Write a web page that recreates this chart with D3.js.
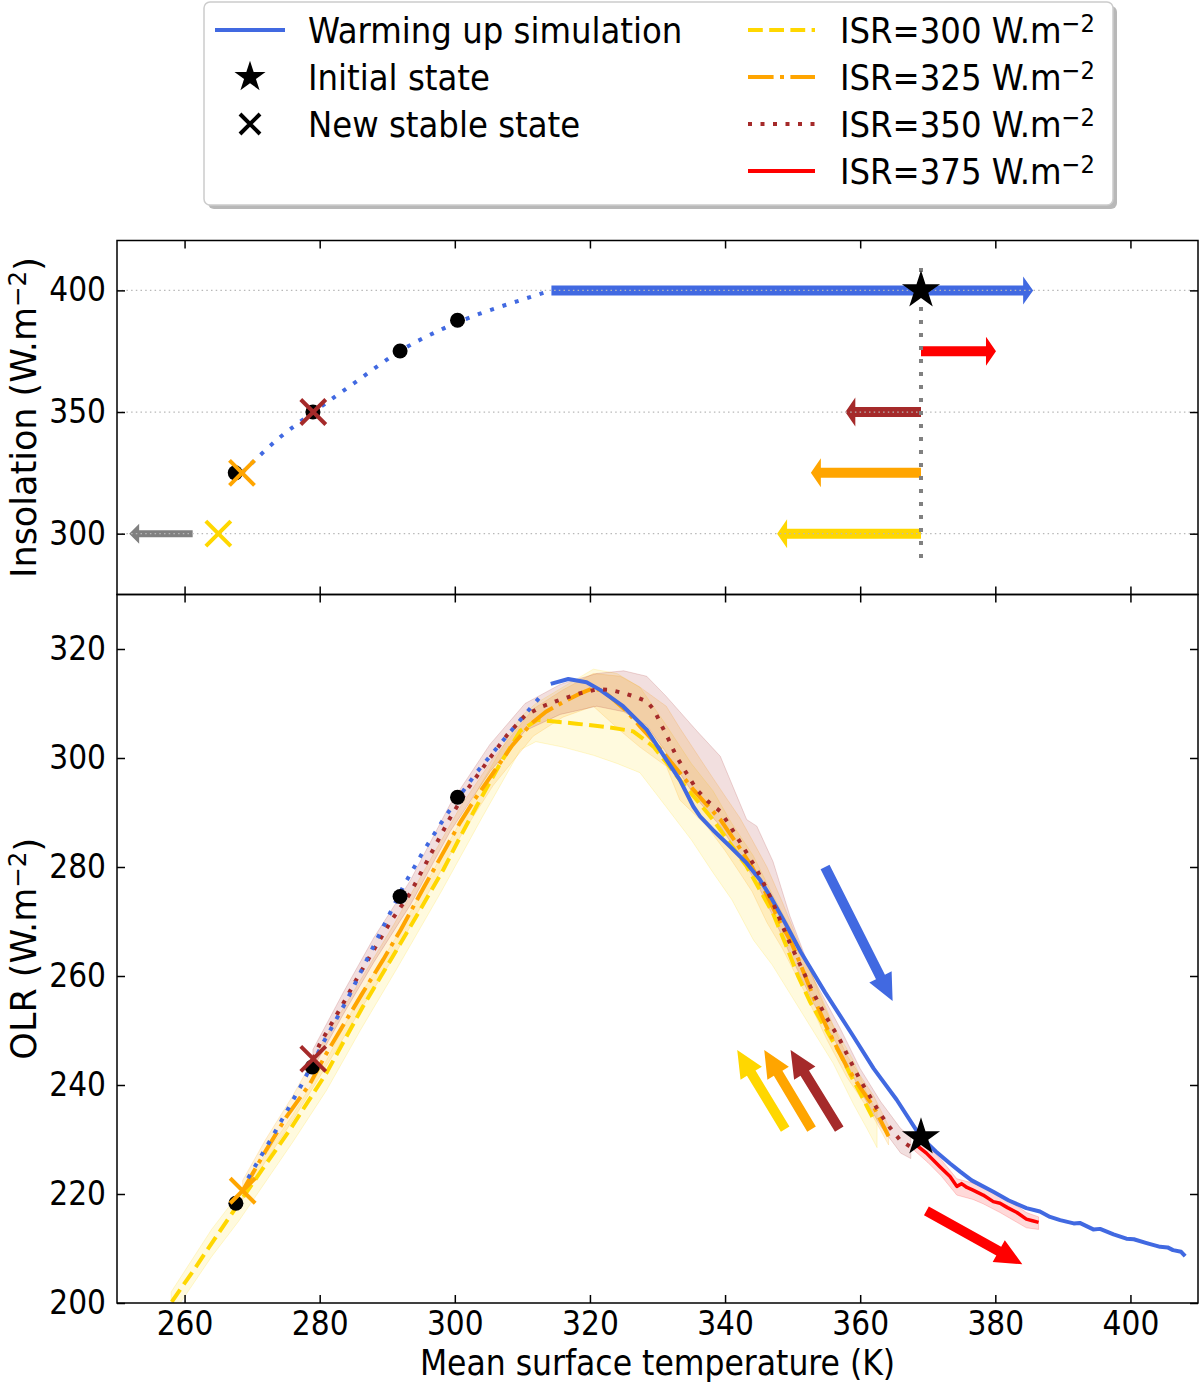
<!DOCTYPE html>
<html>
<head>
<meta charset="utf-8">
<script src="https://cdn.jsdelivr.net/npm/d3@7"></script>
<style>
	body { margin: 0; background: #fff; }
	text { font-family: "DejaVu Sans Condensed", "DejaVu Sans", sans-serif; fill: #000; }
	text.rot { font-family: "DejaVu Sans", sans-serif; }
</style>
</head>
<body>
<div id="chart"></div>
<script>
var width = 1200;
var height = 1384;

// ---- data ----
var isrLevels = [300, 325, 350, 375];
var isrColors = ["#ffd700", "#ffa500", "#a52a2a", "#ff0000"];
var warmColor = "#4169e1";

var xTicks = [260, 280, 300, 320, 340, 360, 380, 400];
var topYTicks = [300, 350, 400];
var botYTicks = [200, 220, 240, 260, 280, 300, 320];

// top panel (temperature, insolation)
var topWarmCurve = [[268.5, 325], [273.9, 339.1], [279.1, 350], [285.0, 361.7], [291.9, 375.1], [298.3, 384.3], [303.7, 390.4], [309.2, 395.5], [314.3, 400]];
var topDots = [[267.5, 325], [279, 350], [291.9, 375.1], [300.4, 387.7]];
var topCrossX = [265, 268.5, 279.05];
var topCrossY = [300, 325, 350];
var topStar = [369, 400];
var topVLine = [[369, 290], [369, 410]];
// arrows: [x0, y0, x1, y1]
var topWarmArrow = [314.3, 400, 385.6, 400];
var topIsrArrows = [[369, 300, 347.7, 300], [369, 325, 352.7, 325], [369, 350, 357.8, 350], [369, 375, 380.1, 375]];
var topGrayArrow = [261.2, 300, 251.8, 300];

// bottom panel (temperature, OLR)
var warmSolid = [[314.2, 313.6], [316.8, 314.5], [319.5, 313.9], [321.5, 312.5], [324.9, 309.5], [328.4, 305.2], [331.3, 299.7], [333.3, 296.0], [335.3, 291.1], [336.3, 289.3], [338.2, 286.8], [340.7, 283.8], [343.2, 280.7], [345.2, 277.6], [346.9, 274.2], [349, 269.5], [351.2, 264.4], [354.8, 257.0], [358.7, 249.5], [362, 243], [365.4, 237.3], [369.0, 230.4], [371.2, 227.8], [373.3, 225.6], [374.8, 224.1], [376.5, 222.5], [379.7, 220.4], [382, 218.8], [384.6, 217.4], [386.6, 216.8], [388.1, 215.8], [389.6, 215.2], [391.6, 214.6], [392.5, 214.7], [394.5, 213.5], [395.5, 213.6], [397.5, 212.6], [399.4, 211.8], [400.5, 211.7], [402.4, 211.0], [404.4, 210.3], [405.5, 210.2], [406.3, 209.7], [407.5, 209.4], [408.1, 208.6]];
var warmDotted = [[269.4, 222.9], [273, 230.5], [277.3, 240], [280.5, 247.7], [284, 255.5], [287.3, 263.8], [289.8, 270], [292.4, 276.5], [295.3, 282.8], [298.3, 288.7], [300.8, 293.2], [303.2, 297.3], [307, 303], [310.6, 308.3], [313.1, 311.9]];
var isr300 = [[258.1, 200.2], [261.5, 206.3], [264.8, 212.4], [267.7, 217.7], [271.5, 224.5], [275.6, 231.8], [278.3, 237], [281.0, 242.2], [283.7, 248.3], [286.4, 254.4], [289, 259.8], [291.4, 264.8], [294.8, 272], [298.3, 279.5], [300.7, 285.3], [303.2, 291.1], [306.5, 298.5], [309.7, 305], [312.2, 307.0], [318, 306.3], [323, 305.6], [326.4, 304.9], [329.4, 302.1], [331.3, 299.2], [333.3, 296.0], [335.8, 292.3], [338.2, 288.7], [340.7, 284.4], [343.2, 280.1], [345.1, 275.9], [347.1, 271.5], [349.1, 265.4], [350.8, 260], [352.6, 255.2], [354.8, 250.5], [357.0, 245.8], [358.5, 242], [360.0, 238.5], [361.2, 235.6], [362.2, 233.2]];
var isr325 = [[268.6, 220.6], [272.1, 228.1], [275.1, 234.2], [278.6, 240.3], [281.0, 245.8], [283.5, 251.0], [286.4, 257.0], [289.4, 263.0], [292, 268.5], [295.3, 276], [298, 282], [300.8, 288.2], [303, 292.5], [305.7, 297.3], [308.5, 302.3], [311.3, 306.3], [313.5, 308.5], [316.1, 310.3], [318.5, 311.8], [320.5, 312.8], [322, 312.3], [323.5, 310.7], [325.5, 308.5], [327.4, 305.8], [329.5, 303], [331.3, 300.3], [333.3, 297.3], [335.3, 294.2], [337.3, 291.4], [339.3, 288.7], [342.2, 283.4], [344, 280], [346.2, 274.8], [348.1, 270], [349.8, 266.2], [351.6, 260.8], [353.3, 255.5], [355.0, 250.7], [356.5, 247], [358.0, 243.4], [360, 239.5], [362.0, 236.0], [364.2, 230.6]];
var isr350 = [[279.05, 244.8], [280.0, 247.5], [283.5, 255.0], [285.5, 259.5], [288, 264.8], [290.5, 270], [293.4, 275.2], [296.5, 282.5], [299.3, 289.0], [302, 294.5], [305.2, 300.0], [307.8, 304.3], [310.4, 307.8], [313, 309.5], [315.6, 310.7], [318.3, 311.8], [321.0, 312.6], [323, 312.5], [325.0, 311.9], [326.8, 311.2], [328.4, 310.4], [329.5, 308.8], [330.4, 306.5], [331.6, 303.5], [332.8, 300.3], [334.3, 297.2], [335.8, 294.2], [337.5, 292], [339.3, 290.2], [340.5, 288], [341.7, 285.6], [343.2, 282.6], [344.7, 279.5], [346, 276.3], [347.1, 273.4], [348.4, 269.5], [349.6, 266.0], [351.4, 261.3], [353.1, 256.8], [355, 252.4], [357.0, 248.3], [358.5, 244.5], [360.0, 240.9], [361.5, 237.8], [362.9, 234.8], [364.4, 232.2], [365.9, 229.9], [367.4, 228.7]];
var isr375 = [[368, 229.3], [369.8, 227.5], [371.8, 225.0], [373.3, 223.2], [374.3, 221.4], [375.0, 221.9], [375.8, 221.2], [376.7, 220.7], [378.2, 219.8], [379.7, 218.6], [380.7, 218.3], [381.8, 217.5], [383.2, 216.6], [384.6, 215.4], [385.5, 215.1], [386.4, 214.8]];

// spread around each ISR run: [x, low, high]
var band300 = [[258, 197.5, 202], [264, 208.5, 213.5], [268, 215, 220], [276, 229.5, 234.5], [281, 239, 244.5], [286, 250, 256.5], [291.5, 261.5, 267.5], [298, 275.5, 282], [304, 289, 295.5], [309.7, 301.5, 307.5], [312, 303, 310], [316, 302, 313], [320.5, 300.5, 316.3], [324, 299, 315.5], [327.4, 297.3, 313], [331.3, 291, 306], [335, 285, 299], [338.2, 279, 294], [341, 274, 288], [344.2, 266.6, 282], [347, 262, 275], [350, 256, 268], [353, 250, 260], [356, 244, 251], [359, 236.5, 244.5], [361, 232, 238.5], [362.5, 228.5, 235]];
var band325 = [[268.6, 219, 222.5], [272, 226, 230], [276, 233.5, 238], [281, 243.5, 249], [286.4, 254.5, 260], [291, 263.5, 269.5], [295.3, 273.5, 279], [300.8, 285.5, 291], [305.7, 295, 300], [311.6, 304, 309], [316, 307.5, 312.5], [320.5, 309.5, 315.5], [324.5, 305, 315], [327.4, 302, 313], [331.3, 298.5, 309.5], [333.3, 292.3, 305.5], [337.3, 287.5, 298], [340, 283, 293], [342.2, 278.9, 289], [344, 275.5, 285], [346.2, 269.8, 280], [348.5, 265, 273.5], [351.6, 257.5, 264], [355, 248.5, 253.5], [358, 241.5, 245.5], [362, 234, 238], [364.2, 229, 232.5]];
var band350 = [[279, 243, 246.5], [283.5, 253, 257], [288, 262.5, 267], [293.4, 273, 277.5], [299.3, 286.5, 291.5], [305.2, 297.5, 302.5], [310.4, 305, 310], [315.6, 308, 313.5], [321, 309.5, 315.5], [325, 308.5, 316], [328.4, 306, 315], [331.3, 301, 311.3], [335.8, 292.5, 305], [339.3, 287.5, 300.3], [343.2, 280, 288.7], [344.7, 277, 287.5], [347.1, 271, 281], [349.6, 264, 271], [353.1, 255, 259.5], [357, 246.5, 250.5], [360, 239, 243], [363, 232.5, 237], [366, 227.5, 232], [367.5, 226.5, 230.5]];
var band375 = [[368, 228, 230.8], [370, 225.8, 228.8], [372, 223.3, 226.3], [374.3, 219.8, 222.8], [376.7, 219, 222], [378.2, 218.2, 221.2], [380.7, 216.6, 219.6], [383.2, 214.8, 217.8], [384.6, 213.8, 216.6], [386.4, 213.5, 215.8]];

var botDots = [[267.6, 218.3], [278.9, 243.3], [291.9, 274.6], [300.4, 292.8]];
var botCrossX = [268.6, 279.05];
var botCrossY = [220.6, 244.8];
var botStar = [369, 230.4];
var botWarmArrow = [354.8, 280.0, 364.8, 255.4];
var botIsrArrows = [[348.9, 231.9, 341.8, 246.4], [352.8, 231.9, 345.8, 246.4], [356.9, 231.9, 349.7, 246.4], [369.8, 216.9, 384.0, 207.1]];

var legendLeft = ["Warming up simulation", "Initial state", "New stable state"];

// ---- layout ----
var left = 117, right = 1198;
var topTop = 240.5, split = 594.5, botBottom = 1303;

var svg = d3
	.select("#chart")
	.append("svg")
	.attr("width", width)
	.attr("height", height);

var x = d3.scaleLinear().domain([250, 410]).range([left, right]);
var yTop = d3.scaleLinear().domain([275, 420.5]).range([split, topTop]);
var yBot = d3.scaleLinear().domain([200, 330]).range([botBottom, split]);

var defs = svg.append("defs");
defs.append("clipPath").attr("id", "clipTop").append("rect")
	.attr("x", left).attr("y", topTop).attr("width", right - left).attr("height", split - topTop);
defs.append("clipPath").attr("id", "clipBot").append("rect")
	.attr("x", left).attr("y", split).attr("width", right - left).attr("height", botBottom - split);

function arrowPath(a, yScale, w, hw, hl) {
	var x0 = x(a[0]), y0 = yScale(a[1]), x1 = x(a[2]), y1 = yScale(a[3]);
	var dx = x1 - x0, dy = y1 - y0;
	var L = Math.sqrt(dx * dx + dy * dy);
	var ux = dx / L, uy = dy / L, nx = -uy, ny = ux;
	var b = L - hl;
	var pts = [[0, w / 2], [b, w / 2], [b, hw / 2], [L, 0], [b, -hw / 2], [b, -w / 2], [0, -w / 2]];
	return "M" + pts.map((p) => [x0 + ux * p[0] + nx * p[1], y0 + uy * p[0] + ny * p[1]].join(",")).join("L") + "Z";
}

function crossPath(cx, cy, r) {
	return `M${cx - r},${cy - r}L${cx + r},${cy + r}M${cx - r},${cy + r}L${cx + r},${cy - r}`;
}

function addAxes(g, yScale, yTicks, y0, y1, showX) {
	var tickStyle = function (sel) {
		sel.select(".domain").remove();
		sel.selectAll(".tick line").attr("stroke", "#000").attr("stroke-width", 1.5);
		sel.selectAll(".tick text").style("font-size", "33px");
	};
	var bottom = g.append("g")
		.attr("transform", `translate(0,${y1})`)
		.call(d3.axisBottom(x).tickValues(xTicks).tickSizeInner(-8).tickSizeOuter(0).tickPadding(9))
		.call(tickStyle);
	if (!showX) bottom.selectAll("text").remove();
	g.append("g")
		.attr("transform", `translate(0,${y0})`)
		.call(d3.axisTop(x).tickValues(xTicks).tickSizeInner(-8).tickSizeOuter(0).tickFormat(""))
		.call(tickStyle);
	g.append("g")
		.attr("transform", `translate(${left},0)`)
		.call(d3.axisLeft(yScale).tickValues(yTicks).tickSizeInner(-8).tickSizeOuter(0).tickPadding(11))
		.call(tickStyle);
	g.append("g")
		.attr("transform", `translate(${right},0)`)
		.call(d3.axisRight(yScale).tickValues(yTicks).tickSizeInner(-8).tickSizeOuter(0).tickFormat(""))
		.call(tickStyle);
	g.selectAll("g").attr("font-family", null);
	g.append("rect")
		.attr("x", left).attr("y", y0)
		.attr("width", right - left).attr("height", y1 - y0)
		.attr("fill", "none").attr("stroke", "#000").attr("stroke-width", 1.5);
}

function superLabel(sel, base, tail) {
	sel.append("tspan").text(base);
	sel.append("tspan").text("\u22122").attr("dy", "-0.42em").style("font-size", "0.7em");
	if (tail) sel.append("tspan").text(tail).attr("dy", "0.42em");
}

// ---- top panel ----
var topG = svg.append("g");
var topPlot = topG.append("g").attr("clip-path", "url(#clipTop)");

topPlot.append("path")
	.attr("d", arrowPath(topWarmArrow, yTop, 10, 28, 10))
	.attr("fill", warmColor);
topPlot.selectAll(".isrArrow")
	.data(topIsrArrows)
	.enter()
	.append("path")
	.attr("d", (a) => arrowPath(a, yTop, 10, 29, 10))
	.attr("fill", (a, i) => isrColors[i]);
topPlot.append("path")
	.attr("d", arrowPath(topGrayArrow, yTop, 7, 20, 10))
	.attr("fill", "#808080");

topPlot.selectAll(".grid")
	.data(topYTicks)
	.enter()
	.append("line")
	.attr("x1", left).attr("x2", right)
	.attr("y1", (d) => yTop(d)).attr("y2", (d) => yTop(d))
	.attr("stroke", "#b8b8b8")
	.attr("stroke-width", 1.3)
	.attr("stroke-dasharray", "1.5,3.2");

var lineTop = d3.line().x((d) => x(d[0])).y((d) => yTop(d[1])).curve(d3.curveMonotoneX);
topPlot.append("path")
	.attr("d", lineTop(topWarmCurve))
	.attr("fill", "none")
	.attr("stroke", warmColor)
	.attr("stroke-width", 4)
	.attr("stroke-dasharray", "4,9");

topPlot.append("path")
	.attr("d", d3.line().x((d) => x(d[0])).y((d) => yTop(d[1]))(topVLine))
	.attr("stroke", "#808080")
	.attr("stroke-width", 4)
	.attr("stroke-dasharray", "4,9");

topPlot.selectAll(".dot")
	.data(topDots)
	.enter()
	.append("circle")
	.attr("cx", (d) => x(d[0]))
	.attr("cy", (d) => yTop(d[1]))
	.attr("r", 7.5)
	.attr("fill", "#000");

topPlot.selectAll(".cross")
	.data(topCrossX)
	.enter()
	.append("path")
	.attr("d", (d, i) => crossPath(x(d), yTop(topCrossY[i]), 12.5))
	.attr("stroke", (d, i) => isrColors[i])
	.attr("stroke-width", 4)
	.attr("fill", "none");

topPlot.append("path")
	.attr("d", d3.symbol(d3.symbolStar, 450)())
	.attr("transform", `translate(${x(topStar[0])},${yTop(topStar[1])})`)
	.attr("fill", "#000");

addAxes(topG, yTop, topYTicks, topTop, split, false);

// ---- bottom panel ----
var botG = svg.append("g");
var botPlot = botG.append("g").attr("clip-path", "url(#clipBot)");

var bands = [band300, band325, band350, band375];
var area = d3.area()
	.x((d) => x(d[0]))
	.y0((d) => yBot(d[1]))
	.y1((d) => yBot(d[2]));
botPlot.selectAll(".band")
	.data(bands)
	.enter()
	.append("path")
	.attr("d", (d) => area(d))
	.attr("fill", (d, i) => isrColors[i])
	.attr("fill-opacity", (d, i) => (i == 0 ? 0.13 : 0.15))
	.attr("stroke", (d, i) => isrColors[i])
	.attr("stroke-opacity", 0.18)
	.attr("stroke-width", 1);

var lineBot = d3.line().x((d) => x(d[0])).y((d) => yBot(d[1]));

botPlot.append("path")
	.attr("d", lineBot(isr300))
	.attr("fill", "none").attr("stroke", isrColors[0])
	.attr("stroke-width", 4).attr("stroke-dasharray", "14.8,6.4");
botPlot.append("path")
	.attr("d", lineBot(isr325))
	.attr("fill", "none").attr("stroke", isrColors[1])
	.attr("stroke-width", 4).attr("stroke-dasharray", "25.6,6.4,4,6.4");
botPlot.append("path")
	.attr("d", lineBot(warmSolid))
	.attr("fill", "none").attr("stroke", warmColor)
	.attr("stroke-width", 4).attr("stroke-linejoin", "round");
botPlot.append("path")
	.attr("d", lineBot(isr350))
	.attr("fill", "none").attr("stroke", isrColors[2])
	.attr("stroke-width", 4).attr("stroke-dasharray", "4,8.5");
botPlot.append("path")
	.attr("d", lineBot(isr375))
	.attr("fill", "none").attr("stroke", isrColors[3])
	.attr("stroke-width", 3.5).attr("stroke-linejoin", "round");
botPlot.append("path")
	.attr("d", lineBot(warmDotted))
	.attr("fill", "none").attr("stroke", warmColor)
	.attr("stroke-width", 4).attr("stroke-dasharray", "4,9");

botPlot.selectAll(".dot")
	.data(botDots)
	.enter()
	.append("circle")
	.attr("cx", (d) => x(d[0]))
	.attr("cy", (d) => yBot(d[1]))
	.attr("r", 7.5)
	.attr("fill", "#000");

botPlot.selectAll(".cross")
	.data(botCrossX)
	.enter()
	.append("path")
	.attr("d", (d, i) => crossPath(x(d), yBot(botCrossY[i]), 12.5))
	.attr("stroke", (d, i) => isrColors[i + 1])
	.attr("stroke-width", 4)
	.attr("fill", "none");

botPlot.append("path")
	.attr("d", d3.symbol(d3.symbolStar, 450)())
	.attr("transform", `translate(${x(botStar[0])},${yBot(botStar[1])})`)
	.attr("fill", "#000");

botPlot.append("path")
	.attr("d", arrowPath(botWarmArrow, yBot, 10, 25, 27))
	.attr("fill", warmColor);
botPlot.selectAll(".isrArrow")
	.data(botIsrArrows)
	.enter()
	.append("path")
	.attr("d", (a) => arrowPath(a, yBot, 10, 25, 27))
	.attr("fill", (a, i) => isrColors[i]);

addAxes(botG, yBot, botYTicks, split, botBottom, true);

// ---- axis labels ----
svg.append("text")
	.attr("x", (left + right) / 2)
	.attr("y", 1375)
	.attr("text-anchor", "middle")
	.style("font-size", "35px")
	.text("Mean surface temperature (K)");

superLabel(
	svg.append("text")
		.attr("class", "rot")
		.attr("transform", `translate(36,${(topTop + split) / 2}) rotate(-90)`)
		.attr("text-anchor", "middle")
		.style("font-size", "35px"),
	"Insolation (W.m", ")"
);

superLabel(
	svg.append("text")
		.attr("class", "rot")
		.attr("transform", `translate(36,${(split + botBottom) / 2}) rotate(-90)`)
		.attr("text-anchor", "middle")
		.style("font-size", "35px"),
	"OLR (W.m", ")"
);

// ---- legend ----
var legend = svg.append("g");
legend.append("rect")
	.attr("x", 208).attr("y", 6)
	.attr("width", 909).attr("height", 203)
	.attr("rx", 6)
	.attr("fill", "#888").attr("fill-opacity", 0.6);
legend.append("rect")
	.attr("x", 204).attr("y", 2)
	.attr("width", 909).attr("height", 203)
	.attr("rx", 6)
	.attr("fill", "#fff").attr("stroke", "#cccccc").attr("stroke-width", 1.5);

var rowY = [30, 77, 124, 171];

legend.append("line")
	.attr("x1", 215).attr("x2", 285).attr("y1", rowY[0]).attr("y2", rowY[0])
	.attr("stroke", warmColor).attr("stroke-width", 4);
legend.append("path")
	.attr("d", d3.symbol(d3.symbolStar, 300)())
	.attr("transform", `translate(250,${rowY[1]})`)
	.attr("fill", "#000");
legend.append("path")
	.attr("d", crossPath(250, rowY[2], 10))
	.attr("stroke", "#000").attr("stroke-width", 4);

legend.selectAll(".lname")
	.data(legendLeft)
	.enter()
	.append("text")
	.attr("x", 308)
	.attr("y", (d, i) => rowY[i])
	.attr("dy", "0.36em")
	.style("font-size", "36px")
	.text((d) => d);

var legendDash = ["14.8,6.4", "25.6,6.4,4,6.4", "4,8.5", null];
legend.selectAll(".ihandle")
	.data(isrLevels)
	.enter()
	.append("line")
	.attr("x1", 748).attr("x2", 815)
	.attr("y1", (d, i) => rowY[i]).attr("y2", (d, i) => rowY[i])
	.attr("stroke", (d, i) => isrColors[i])
	.attr("stroke-width", 4)
	.attr("stroke-dasharray", (d, i) => legendDash[i]);

isrLevels.forEach(function (v, i) {
	var t = legend.append("text")
		.attr("x", 840)
		.attr("y", rowY[i])
		.attr("dy", "0.36em")
		.style("font-size", "36px");
	superLabel(t, `ISR=${v} W.m`);
});
</script>
</body>
</html>
